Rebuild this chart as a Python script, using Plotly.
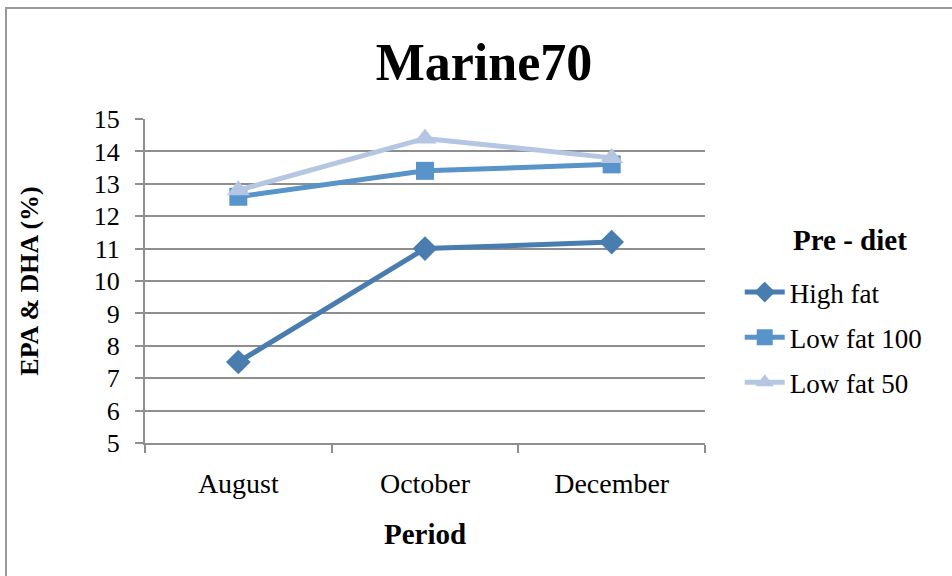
import plotly.graph_objects as go

# Sampling periods and EPA+DHA content (%) per pre-diet group
periods = ["August", "October", "December"]
high_fat = [7.5, 11.0, 11.2]
low_fat_100 = [12.6, 13.4, 13.6]
low_fat_50 = [12.8, 14.4, 13.8]

series = [
    ("High fat", high_fat, "#4A7DAF", "diamond", 19),
    ("Low fat 100", low_fat_100, "#5893CA", "square", 18),
    ("Low fat 50", low_fat_50, "#B5C6E2", "triangle-up", 20),
]

FONT = "Liberation Serif"
GRID = "#8E8E8E"

fig = go.Figure()
for i, (name, vals, color, symbol, size) in enumerate(series):
    fig.add_trace(go.Scatter(
        x=periods, y=vals, name=name, mode="lines+markers",
        legendgroup=f"g{i}",
        line=dict(color=color, width=5),
        marker=dict(symbol=symbol, size=size, color=color),
    ))

fig.update_layout(
    width=952, height=576,
    margin=dict(l=145, r=247, t=119, b=133),
    paper_bgcolor="white", plot_bgcolor="white",
    font=dict(family=FONT, color="black"),
    title=dict(text="<b>Marine70</b>", x=(378 + 590) / 2 / 952, xanchor="center",
               y=1 - 62 / 576, yanchor="middle",
               font=dict(family=FONT, size=52, color="black")),
    showlegend=True,
    legend=dict(
        font=dict(family=FONT, size=27, color="black"),
        x=1.062, xanchor="left", y=(443 - 268) / 324, yanchor="top",
        traceorder="grouped", tracegroupgap=7,
        bgcolor="rgba(0,0,0,0)", itemwidth=40,
    ),
    annotations=[dict(text="<b>Pre - diet</b>", xref="paper", yref="paper",
                      x=(850 - 145) / 560, y=(443 - 240) / 324,
                      xanchor="center", yanchor="middle", showarrow=False,
                      font=dict(family=FONT, size=29, color="black"))],
    xaxis=dict(
        type="category", range=[-0.5, 2.5],
        showline=True, linecolor=GRID, linewidth=2,
        ticks="outside", tickson="boundaries", ticklen=8, tickcolor=GRID, tickwidth=1.5,
        showgrid=False, tickfont=dict(family=FONT, size=28), ticklabelstandoff=14,
        title=dict(text="<b>Period</b>", font=dict(family=FONT, size=29), standoff=26),
    ),
    yaxis=dict(
        range=[5, 15], dtick=1, tick0=5,
        showline=True, linecolor=GRID, linewidth=2,
        ticks="outside", ticklen=8, tickcolor=GRID, tickwidth=1.5,
        showgrid=True, gridcolor=GRID, gridwidth=2, zeroline=False,
        tickfont=dict(family=FONT, size=26), ticklabelstandoff=10,
        title=dict(text="<b>EPA & DHA (%)</b>", font=dict(family=FONT, size=26), standoff=48),
    ),
    shapes=[dict(type="rect", xref="paper", yref="paper",
                 x0=-139 / 560, x1=1.6, y0=-0.6, y1=(443 - 8) / 324,
                 line=dict(color="#9A9A9A", width=2), layer="below")],
)

fig.write_html("out.html")
